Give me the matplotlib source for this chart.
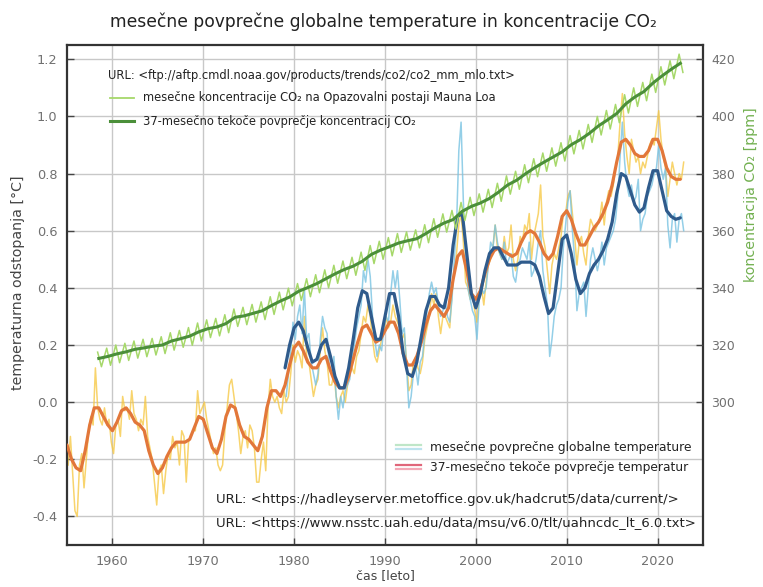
import numpy as np
import matplotlib
matplotlib.use("Agg")
import matplotlib.pyplot as plt
from matplotlib.lines import Line2D

plt.rcParams['font.family'] = ['DejaVu Sans']

# ---------------------------------------------------------------- data
# HadCRUT global temperature anomaly, quarterly values [°C]
had_start = 1955
had_q = [
    -0.22, -0.12, -0.25, -0.38,  -0.40, -0.22, -0.18, -0.30,  -0.20, -0.10, -0.05, -0.08,
     0.12, -0.02, -0.06, -0.08,  -0.02, -0.08, -0.06, -0.14,  -0.18, -0.08, -0.06, -0.12,
     0.02, -0.03, -0.02, -0.06,   0.04, -0.04, -0.06, -0.10,  -0.06, -0.08,  0.02, -0.12,
    -0.16, -0.20, -0.28, -0.36,  -0.24, -0.22, -0.32, -0.24,  -0.18, -0.20, -0.12, -0.16,
    -0.14, -0.22, -0.10, -0.12,  -0.28, -0.14, -0.12, -0.10,  -0.10,  0.04, -0.04, -0.02,
     0.00, -0.06, -0.10, -0.14,  -0.18, -0.16, -0.22, -0.24,  -0.22, -0.10, -0.02,  0.06,
     0.08,  0.02, -0.04, -0.10,  -0.18, -0.12, -0.10, -0.16,  -0.08, -0.10, -0.16, -0.28,
    -0.28, -0.20, -0.14, -0.24,  -0.02,  0.08,  0.02,  0.00,   0.02, -0.02, -0.04,  0.04,
     0.00,  0.02,  0.10,  0.20,   0.14,  0.18,  0.16,  0.12,   0.30,  0.16,  0.14,  0.08,
     0.02,  0.06,  0.08,  0.18,   0.26,  0.18,  0.14,  0.06,   0.06,  0.10,  0.02, -0.02,
     0.02,  0.04,  0.00,  0.06,   0.10,  0.12,  0.10,  0.16,   0.18,  0.24,  0.30,  0.28,
     0.34,  0.30,  0.22,  0.16,   0.14,  0.18,  0.22,  0.24,   0.30,  0.26,  0.28,  0.34,
     0.30,  0.28,  0.26,  0.22,   0.24,  0.14,  0.04,  0.06,   0.14,  0.16,  0.12,  0.10,
     0.14,  0.22,  0.26,  0.30,   0.38,  0.34,  0.38,  0.30,   0.24,  0.30,  0.30,  0.28,
     0.26,  0.38,  0.46,  0.52,   0.62,  0.66,  0.56,  0.42,   0.40,  0.36,  0.38,  0.32,
     0.28,  0.38,  0.40,  0.34,   0.42,  0.48,  0.50,  0.54,   0.62,  0.54,  0.52,  0.50,
     0.58,  0.52,  0.54,  0.62,   0.50,  0.46,  0.50,  0.58,   0.56,  0.62,  0.60,  0.66,
     0.50,  0.58,  0.62,  0.66,   0.76,  0.58,  0.54,  0.46,   0.38,  0.48,  0.52,  0.50,
     0.54,  0.58,  0.66,  0.66,   0.72,  0.74,  0.66,  0.58,   0.48,  0.56,  0.58,  0.52,
     0.48,  0.58,  0.64,  0.62,   0.60,  0.62,  0.64,  0.70,   0.62,  0.70,  0.74,  0.72,
     0.76,  0.82,  0.86,  0.98,   1.08,  0.94,  0.86,  0.80,   0.92,  0.88,  0.84,  0.86,
     0.80,  0.84,  0.82,  0.86,   0.90,  0.92,  0.90,  0.96,   1.02,  0.92,  0.86,  0.82,
     0.72,  0.78,  0.84,  0.80,   0.76,  0.80,  0.78,  0.84,
]

# HadCRUT 37-month running mean, half-yearly [°C]
had_smooth_start = 1955.0
had_smooth = [
    -0.15, -0.20, -0.23, -0.24, -0.17, -0.08, -0.02, -0.02, -0.05, -0.08,
    -0.10, -0.07, -0.03, -0.02, -0.04, -0.07, -0.08, -0.10, -0.17, -0.22,
    -0.25, -0.23, -0.19, -0.16, -0.14, -0.14, -0.14, -0.13, -0.09, -0.05,
    -0.06, -0.11, -0.16, -0.18, -0.13, -0.05, -0.01, -0.02, -0.08, -0.12,
    -0.13, -0.15, -0.17, -0.12, -0.02,  0.04,  0.04,  0.02,  0.06,  0.13,
     0.19,  0.21,  0.18,  0.14,  0.12,  0.12,  0.15,  0.16,  0.11,  0.07,
     0.05,  0.05,  0.09,  0.15,  0.21,  0.26,  0.27,  0.24,  0.21,  0.22,
     0.25,  0.28,  0.28,  0.24,  0.17,  0.13,  0.13,  0.16,  0.21,  0.27,
     0.32,  0.34,  0.32,  0.30,  0.33,  0.43,  0.51,  0.53,  0.46,  0.38,
     0.36,  0.39,  0.45,  0.50,  0.53,  0.54,  0.53,  0.52,  0.51,  0.52,
     0.56,  0.59,  0.60,  0.59,  0.56,  0.52,  0.50,  0.52,  0.58,  0.65,
     0.67,  0.64,  0.59,  0.55,  0.55,  0.58,  0.61,  0.63,  0.66,  0.70,
     0.76,  0.84,  0.91,  0.92,  0.90,  0.87,  0.86,  0.86,  0.88,  0.92,
     0.92,  0.88,  0.82,  0.79,  0.78,  0.78,
]

# UAH lower troposphere, quarterly values [°C]
uah_start = 1979
uah_q = [
     0.02,  0.10,  0.18,  0.28,   0.22,  0.30,  0.34,  0.24,   0.40,  0.22,  0.24,  0.14,
     0.10,  0.06,  0.10,  0.22,   0.30,  0.26,  0.24,  0.12,   0.10,  0.16,  0.02, -0.06,
     0.02, -0.02,  0.04,  0.06,   0.08,  0.16,  0.20,  0.26,   0.30,  0.34,  0.46,  0.42,
     0.50,  0.44,  0.30,  0.22,   0.16,  0.20,  0.18,  0.26,   0.30,  0.28,  0.38,  0.46,
     0.40,  0.46,  0.36,  0.24,   0.26,  0.12, -0.02,  0.02,   0.10,  0.12,  0.06,  0.14,
     0.16,  0.24,  0.32,  0.38,   0.42,  0.38,  0.40,  0.34,   0.30,  0.32,  0.36,  0.30,
     0.28,  0.36,  0.50,  0.62,   0.88,  0.98,  0.70,  0.52,   0.40,  0.36,  0.32,  0.30,
     0.22,  0.36,  0.40,  0.38,   0.40,  0.48,  0.56,  0.54,   0.62,  0.56,  0.52,  0.50,
     0.56,  0.48,  0.50,  0.52,   0.44,  0.42,  0.48,  0.50,   0.54,  0.52,  0.50,  0.56,
     0.44,  0.46,  0.50,  0.56,   0.60,  0.46,  0.40,  0.34,   0.16,  0.22,  0.30,  0.34,
     0.36,  0.40,  0.54,  0.62,   0.70,  0.74,  0.60,  0.50,   0.32,  0.38,  0.40,  0.42,
     0.30,  0.40,  0.50,  0.54,   0.50,  0.46,  0.50,  0.56,   0.48,  0.54,  0.56,  0.58,
     0.60,  0.64,  0.72,  0.86,   0.98,  0.84,  0.76,  0.72,   0.76,  0.70,  0.72,  0.78,
     0.60,  0.64,  0.66,  0.72,   0.74,  0.76,  0.80,  0.82,   0.90,  0.82,  0.78,  0.82,
     0.62,  0.54,  0.64,  0.66,   0.56,  0.64,  0.66,  0.60,
]

# UAH 37-month running mean, half-yearly [°C]
uah_smooth_start = 1979.0
uah_smooth = [
     0.12,  0.20,  0.26,  0.28,  0.25,  0.19,  0.14,  0.15,  0.20,  0.22,
     0.16,  0.09,  0.05,  0.05,  0.12,  0.22,  0.33,  0.39,  0.38,  0.30,
     0.22,  0.22,  0.30,  0.38,  0.38,  0.30,  0.17,  0.10,  0.09,  0.14,
     0.23,  0.32,  0.37,  0.37,  0.34,  0.33,  0.40,  0.55,  0.65,  0.66,
     0.52,  0.38,  0.33,  0.38,  0.46,  0.52,  0.54,  0.54,  0.51,  0.48,
     0.48,  0.48,  0.49,  0.49,  0.49,  0.48,  0.44,  0.37,  0.31,  0.33,
     0.45,  0.57,  0.585, 0.52,  0.43,  0.38,  0.40,  0.45,  0.48,  0.50,
     0.53,  0.57,  0.63,  0.73,  0.80,  0.79,  0.74,  0.69,  0.665, 0.68,
     0.75,  0.81,  0.81,  0.74,  0.67,  0.65,  0.64,  0.645,
]

# Mauna Loa CO2 [ppm]: annual mean, May maximum, October minimum
co2_years = list(range(1958, 2023))
co2_annual = [
    315.3, 316.0, 316.9, 317.6, 318.5, 319.0, 319.6, 320.0, 321.4, 322.2,
    323.1, 324.6, 325.7, 326.3, 327.5, 329.7, 330.2, 331.1, 332.0, 333.8,
    335.4, 336.8, 338.8, 340.1, 341.5, 343.2, 344.9, 346.4, 347.6, 349.3,
    351.7, 353.2, 354.4, 355.7, 356.5, 357.2, 359.0, 361.0, 362.7, 363.9,
    366.8, 368.5, 369.7, 371.3, 373.5, 376.0, 377.7, 380.0, 382.1, 384.0,
    385.8, 387.6, 390.1, 391.9, 394.1, 396.7, 398.8, 401.0, 404.4, 406.8,
    408.7, 411.7, 414.2, 416.5, 418.6,
]
co2_may = [
    317.5, 318.9, 320.0, 320.6, 321.4, 322.0, 322.3, 322.9, 324.3, 325.1,
    326.1, 327.7, 328.8, 329.3, 330.6, 332.6, 333.2, 334.2, 335.1, 336.9,
    338.5, 339.9, 341.5, 343.2, 344.6, 346.3, 347.9, 349.4, 350.7, 352.5,
    354.8, 356.3, 357.6, 359.0, 359.6, 360.3, 362.1, 364.2, 365.9, 367.1,
    369.9, 371.7, 372.9, 374.5, 376.6, 379.2, 380.8, 383.1, 385.2, 387.2,
    389.0, 390.8, 393.3, 395.1, 397.2, 400.0, 402.1, 404.2, 407.6, 410.0,
    411.9, 414.8, 417.4, 419.5, 421.8,
]
co2_oct = [
    312.4, 312.9, 313.8, 314.6, 315.4, 315.9, 316.5, 317.0, 318.2, 319.2,
    319.9, 321.4, 322.6, 323.2, 324.3, 326.5, 327.1, 328.0, 328.9, 330.7,
    332.3, 333.7, 335.6, 336.9, 338.3, 340.0, 341.6, 343.2, 344.4, 346.1,
    348.5, 350.0, 351.2, 352.4, 353.2, 354.0, 355.8, 357.7, 359.5, 360.6,
    363.6, 365.3, 366.5, 368.1, 370.3, 372.8, 374.5, 376.8, 378.9, 380.8,
    382.6, 384.4, 386.9, 388.6, 390.9, 393.5, 395.6, 397.8, 401.2, 403.5,
    405.5, 408.4, 411.0, 413.2, 415.4,
]

x_ticks = [1960, 1970, 1980, 1990, 2000, 2010, 2020]
t_ticks = [-0.4, -0.2, 0.0, 0.2, 0.4, 0.6, 0.8, 1.0, 1.2]
co2_ticks = [300, 320, 340, 360, 380, 400, 420]

# ---------------------------------------------------------------- arrays
had_t = had_start + (np.arange(len(had_q)) + 0.5) / 4
uah_t = uah_start + (np.arange(len(uah_q)) + 0.5) / 4
had_st = had_smooth_start + np.arange(len(had_smooth)) / 2
uah_st = uah_smooth_start + np.arange(len(uah_smooth)) / 2

co2_t = []
co2_v = []
for y, hi, lo in zip(co2_years, co2_may, co2_oct):
    co2_t += [y + 0.37, y + 0.79]
    co2_v += [hi, lo]
co2_mid = np.array(co2_years) + 0.5

# ---------------------------------------------------------------- figure
W, H = 763, 587
fig = plt.figure(figsize=(W / 100, H / 100), dpi=100)
L, R, T, B = 67, 703, 45, 545
ax = fig.add_axes([L / W, 1 - B / H, (R - L) / W, (B - T) / H])

grey_txt = '#707070'
ax.set_xlim(1955, 2025)
ax.set_ylim(-0.5, 1.25)
ax.set_xticks(x_ticks)
ax.set_yticks(t_ticks)
ax.set_yticklabels([f"{v:.1f}" for v in t_ticks])
ax.grid(True, color='#c8c8c8', lw=1.0)
ax.set_axisbelow(True)
ax.tick_params(direction='in', length=5, width=1, color='#444',
               labelsize=9.3, labelcolor=grey_txt, pad=7)
for s in ax.spines.values():
    s.set_color('#333')
    s.set_linewidth(1.6)

# monthly-resolution temperature traces
ax.plot(had_t, had_q, color='#f6c63c', lw=1.1, alpha=0.75, zorder=2)
ax.plot(uah_t, uah_q, color='#79c3e2', lw=1.1, alpha=0.8, zorder=3)

# running means
ax.plot(had_st, had_smooth, color='#e2773a', lw=2.3, zorder=4,
        solid_capstyle='round')
ax.plot(uah_st, uah_smooth, color='#2f5b8c', lw=2.3, zorder=5,
        solid_capstyle='round')

# CO2 on the right axis
ax2 = ax.twinx()
ax2.set_ylim(250, 425)
ax2.set_yticks(co2_ticks)
ax2.tick_params(direction='in', length=5, width=1, color='#444',
                labelsize=9.0, labelcolor=grey_txt, pad=6)
for s in ax2.spines.values():
    s.set_visible(False)
ax2.plot(co2_t, co2_v, color='#a6d86a', lw=1.1, zorder=2)
ax2.plot(co2_mid, co2_annual, color='#4b8f3a', lw=2.2, zorder=3)

# ---------------------------------------------------------------- labels
fig.text(0.502, 1 - 22 / H,
         "mesečne povprečne globalne temperature in koncentracije CO₂",
         ha='center', va='center', fontsize=12.3, color='#222')
fig.text(18 / W, 1 - 283 / H, "temperaturna odstopanja [°C]",
         rotation=90, ha='center', va='center', fontsize=10.2, color='#444')
fig.text(751 / W, 1 - 195 / H, "koncentracija CO₂ [ppm]",
         rotation=90, ha='center', va='center', fontsize=10.3, color='#72b050')
fig.text(385 / W, 1 - 576 / H, "čas [leto]",
         ha='center', va='center', fontsize=9, color='#444')


def ax_pt(px, py):
    return (px - L) / (R - L), (B - py) / (B - T)


def key_text(px, py, s, size):
    x, y = ax_pt(px, py)
    ax.text(x, y, s, ha='left', va='center', fontsize=size, color='#222',
            transform=ax.transAxes, zorder=10)


def key_line(px0, px1, py, col, lw):
    xa, ya = ax_pt(px0, py)
    xb, _ = ax_pt(px1, py)
    ax.add_line(Line2D([xa, xb], [ya, ya], color=col, lw=lw,
                       transform=ax.transAxes, zorder=10))


# CO2 key, upper left
key_text(108, 75, "URL: <ftp://aftp.cmdl.noaa.gov/products/trends/co2/co2_mm_mlo.txt>", 8.3)
key_line(110, 134, 98, '#a6d86a', 1.3)
key_text(143, 98, "mesečne koncentracije CO₂ na Opazovalni postaji Mauna Loa", 8.3)
key_line(110, 134, 121, '#4b8f3a', 2.2)
key_text(143, 121, "37-mesečno tekoče povprečje koncentracij CO₂", 8.3)

# temperature key, lower right
key_line(396, 421, 445, '#bfe6c8', 1.6)
key_line(396, 421, 449, '#bde3ee', 1.6)
key_text(430, 447, "mesečne povprečne globalne temperature", 8.8)
key_line(396, 421, 465, '#e0667a', 1.6)
key_line(396, 421, 469, '#f3a7b5', 1.6)
key_text(430, 467, "37-mesečno tekoče povprečje temperatur", 8.8)

key_text(216, 500, "URL: <https://hadleyserver.metoffice.gov.uk/hadcrut5/data/current/>", 9.5)
key_text(216, 523, "URL: <https://www.nsstc.uah.edu/data/msu/v6.0/tlt/uahncdc_lt_6.0.txt>", 9.5)

fig.savefig("out.png", dpi=100)
